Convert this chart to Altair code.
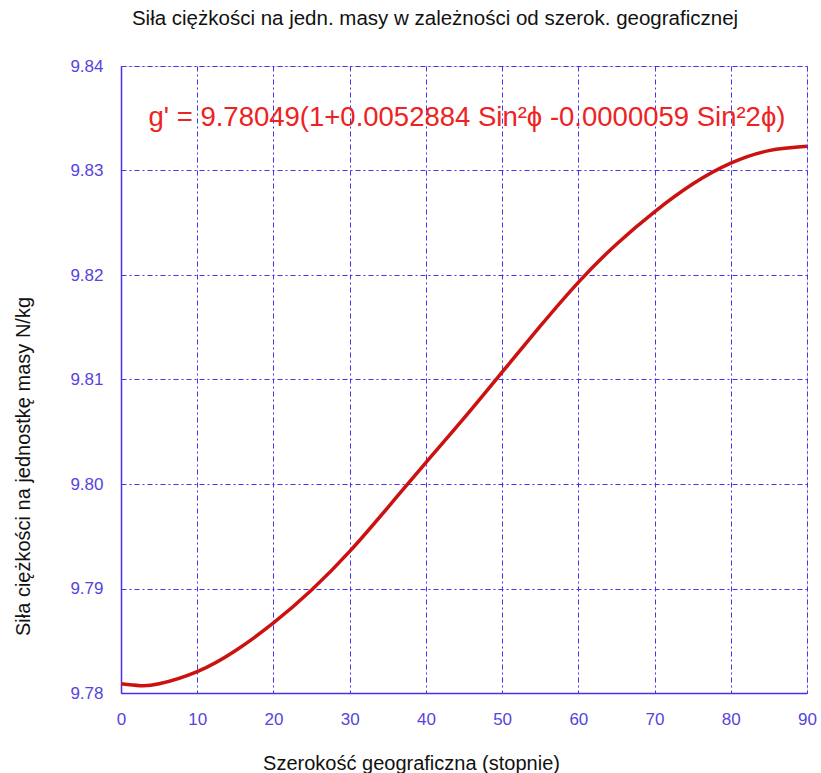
import altair as alt
import pandas as pd

# Data
latitude = [0, 2.5, 5, 10, 15, 20, 25, 30, 35, 40, 45, 50, 55, 60, 65, 70, 75, 80, 85, 90]
gravity = [9.78088, 9.78070, 9.78088, 9.78205, 9.78405, 9.78670, 9.78985, 9.79355,
           9.79775, 9.80205, 9.80630, 9.81070, 9.81510, 9.81930, 9.82295, 9.82605,
           9.82870, 9.83070, 9.83190, 9.83231]
x_ticks = [0, 10, 20, 30, 40, 50, 60, 70, 80, 90]
y_ticks = [9.78, 9.79, 9.80, 9.81, 9.82, 9.83, 9.84]

title_text = "Siła ciężkości na jedn. masy w zależności od szerok. geograficznej"
x_title = "Szerokość geograficzna (stopnie)"
y_title = "Siła ciężkości na jednostkę masy N/kg"
formula = ["g' = 9.78049(1+0.0052884 Sin²ϕ -0.0000059 Sin²2ϕ)"]

df = pd.DataFrame({"lat": latitude, "g": gravity})

BLUE = "#4433EE"
LABEL_BLUE = "#5544DD"
FONT = "Liberation Sans"

x_enc = alt.X(
    "lat:Q",
    scale=alt.Scale(domain=[0, 90], nice=False, zero=False),
    axis=alt.Axis(
        values=x_ticks, format="d", title=x_title,
        titleX=290, titleY=70, titleBaseline="middle", titleAnchor=None,
        titleFont=FONT, titleFontSize=20, titleFontWeight="normal", titleColor="#111111",
        labelFont=FONT, labelFontSize=17, labelColor=LABEL_BLUE, labelPadding=18,
        labelFlush=False, labelBound=False, labelOverlap=False,
        ticks=False, domainColor=BLUE, domainWidth=1.5,
        grid=True, gridColor=BLUE, gridDash=[5, 3, 2, 3], gridWidth=1,
    ),
)
y_enc = alt.Y(
    "g:Q",
    scale=alt.Scale(domain=[9.78, 9.84], nice=False, zero=False),
    axis=alt.Axis(
        values=y_ticks, format=".2f", title=y_title,
        titleX=-98, titleY=400, titleAngle=270, titleBaseline="middle", titleAlign="center",
        titleFont=FONT, titleFontSize=20, titleFontWeight="normal", titleColor="#111111",
        labelFont=FONT, labelFontSize=17, labelColor=LABEL_BLUE, labelPadding=18,
        labelFlush=False, labelBound=False, labelOverlap=False,
        ticks=False, domainColor=BLUE, domainWidth=1.5,
        grid=True, gridColor=BLUE, gridDash=[5, 3, 2, 3], gridWidth=1,
    ),
)

line = alt.Chart(df).mark_line(
    color="#CC1111", strokeWidth=3.5, interpolate="natural"
).encode(x=x_enc, y=y_enc)

label = alt.Chart(pd.DataFrame({"t": formula})).mark_text(
    font=FONT, fontSize=27.5, color="#EE2222", align="center", baseline="middle"
).encode(text="t:N", x=alt.value(346), y=alt.value(52))

chart = alt.layer(line, label).properties(
    width=686, height=627,
    title=alt.TitleParams(
        text=title_text, anchor="middle", dx=-29, offset=28,
        font=FONT, fontSize=20.5, fontWeight="normal", color="#111111",
    ),
    autosize=alt.AutoSizeParams(type="none"),
    padding={"left": 121, "top": 66, "right": 14, "bottom": 80},
).configure_view(
    stroke=BLUE, strokeWidth=1.5
).configure(background="white")

chart.save("out.html", embed_options={"renderer": "svg", "actions": False})
